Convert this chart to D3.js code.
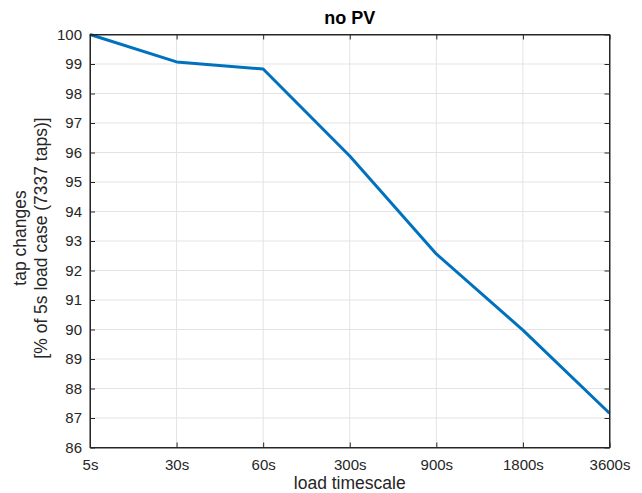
<!DOCTYPE html>
<html><head><meta charset="utf-8">
<script src="https://cdn.jsdelivr.net/npm/d3@7"></script>
<style>body{margin:0;background:#fff}text{font-family:"Liberation Sans",Arial,sans-serif}</style>
</head><body><svg id="c" width="642" height="493"></svg>
<script>
const categories = ["5s","30s","60s","300s","900s","1800s","3600s"];
const values = [100, 99.07, 98.83, 95.88, 92.56, 89.98, 87.16];
const yTicks = [86,87,88,89,90,91,92,93,94,95,96,97,98,99,100];

const svg = d3.select("#c");
const L=90, R=609.5, T=34.5, B=447.5;
const x = d3.scalePoint().domain(categories).range([L,R]);
const y = d3.scaleLinear().domain([86,100]).range([B,T]);
const col="#262626";

// grid
const g = svg.append("g");
g.selectAll(".gx").data(categories).join("line")
 .attr("x1",d=>x(d)).attr("x2",d=>x(d)).attr("y1",T).attr("y2",B)
 .attr("stroke","#e3e3e3").attr("stroke-width",1);
g.selectAll(".gy").data(yTicks).join("line")
 .attr("x1",L).attr("x2",R).attr("y1",d=>y(d)).attr("y2",d=>y(d))
 .attr("stroke","#e3e3e3").attr("stroke-width",1);

// line
svg.append("path").datum(values)
 .attr("d", d3.line().x((d,i)=>x(categories[i])).y(d=>y(d)))
 .attr("fill","none").attr("stroke","#0072BD").attr("stroke-width",3).attr("stroke-linejoin","round");

// axes (ticks inward)
const ax = svg.append("g").attr("transform",`translate(0,${B})`)
 .call(d3.axisBottom(x).tickSizeInner(-5).tickSizeOuter(0).tickPadding(12));
const axT = svg.append("g").attr("transform",`translate(0,${T})`)
 .call(d3.axisTop(x).tickSizeInner(-5).tickSizeOuter(0).tickFormat(""));
const ay = svg.append("g").attr("transform",`translate(${L},0)`)
 .call(d3.axisLeft(y).tickValues(yTicks).tickSizeInner(-5).tickSizeOuter(0).tickPadding(8));
const ayR = svg.append("g").attr("transform",`translate(${R},0)`)
 .call(d3.axisRight(y).tickValues(yTicks).tickSizeInner(-5).tickSizeOuter(0).tickFormat(""));
[ax,axT,ay,ayR].forEach(a=>{
  a.select(".domain").attr("stroke",col);
  a.selectAll(".tick line").attr("stroke",col);
  a.selectAll("text").attr("fill",col).style("font-size","15px").style("font-family",'"Liberation Sans",Arial,sans-serif');
});
// box
svg.append("rect").attr("x",L).attr("y",T).attr("width",R-L).attr("height",B-T)
 .attr("fill","none").attr("stroke",col).attr("stroke-width",1);

// title & labels
svg.append("text").attr("x",(L+R)/2).attr("y",24).attr("text-anchor","middle")
 .style("font-size","18px").style("font-weight","bold").attr("fill","#000").text("no PV");
svg.append("text").attr("x",(L+R)/2).attr("y",489).attr("text-anchor","middle")
 .style("font-size","17.5px").attr("fill",col).text("load timescale");
const yl = svg.append("text").attr("transform",`translate(0,${(T+B)/2 - 3}) rotate(-90)`)
 .attr("text-anchor","middle").style("font-size","17.5px").attr("fill",col);
yl.append("tspan").attr("x",0).attr("y",26).text("tap changes");
yl.append("tspan").attr("x",0).attr("y",47).text("[% of 5s load case (7337 taps)]");
</script></body></html>
